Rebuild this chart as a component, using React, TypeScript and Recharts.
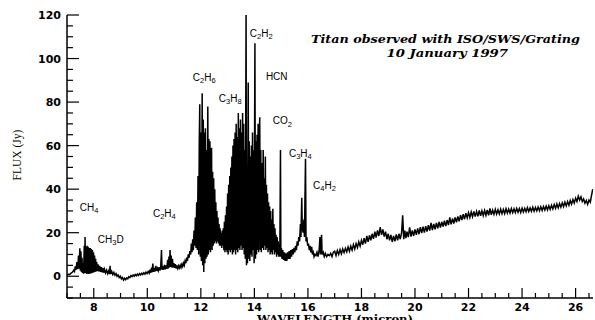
import React from 'react';
import { LineChart, Line, XAxis, YAxis, ReferenceDot } from 'recharts';

type Pt = [number, number];

// wavelength (micron), flux (Jy)
const ch4Band: Pt[] = [
  [7.0, 0.5], [7.05, 0.9], [7.1, 0.8], [7.15, 1.4], [7.2, 1.8], [7.25, 2.8], [7.28, 2.2], [7.31, 4.5],
  [7.34, 3], [7.37, 6.5], [7.4, 3.2], [7.43, 9.5], [7.45, 3.5], [7.48, 12.8], [7.5, 2.5], [7.52, 11.5],
  [7.54, 2], [7.56, 8.5], [7.58, 1.5], [7.6, 6], [7.62, 1.2], [7.645, 14], [7.66, 1.5], [7.675, 18],
  [7.69, 1.5], [7.71, 13.5], [7.73, 1], [7.75, 14], [7.77, 1.2], [7.79, 13.5], [7.81, 1], [7.83, 13],
  [7.85, 1.2], [7.87, 13], [7.89, 1.3], [7.91, 12.5], [7.93, 1.5], [7.95, 12], [7.97, 1.6], [7.99, 11],
  [8.01, 1.8], [8.03, 9.5], [8.05, 2], [8.07, 8], [8.09, 2.2], [8.11, 6.5], [8.13, 2.3], [8.16, 5.5],
  [8.19, 2.2], [8.22, 4.8], [8.25, 2], [8.28, 4.2], [8.31, 1.8], [8.34, 3.8], [8.37, 1.6],
];

const quietBand: Pt[] = [
  [8.4, 3.2], [8.44, 1.5], [8.48, 2.8], [8.52, 1.2], [8.56, 2.5], [8.59, 1], [8.61, 4.8], [8.63, 1],
  [8.67, 2.2], [8.71, 0.8], [8.75, 1.8], [8.79, 0.5], [8.83, 1.2], [8.87, 0], [8.91, 0.6], [8.95, -0.6],
  [8.99, 0], [9.03, -1.2], [9.07, -0.6], [9.11, -1.8], [9.15, -1], [9.19, -1.6], [9.23, -0.8], [9.27, -1.2],
  [9.31, -0.2], [9.35, -0.6], [9.39, 0.3], [9.43, -0.2], [9.47, 0.6], [9.51, 0], [9.55, 0.8], [9.59, 0.2],
  [9.63, 1], [9.67, 0.4], [9.71, 1.2], [9.75, 0.6], [9.79, 1.4], [9.83, 0.8], [9.87, 1.6], [9.91, 1],
  [9.95, 1.9], [9.99, 1.2], [10.03, 2.2], [10.07, 1.4], [10.1, 3], [10.13, 1.6], [10.16, 4], [10.18, 1.8],
  [10.205, 5.8], [10.23, 2], [10.26, 3.2], [10.29, 2.2], [10.32, 4.8], [10.35, 2.4], [10.38, 3.6], [10.41, 2.5],
  [10.44, 4.2], [10.47, 2.6], [10.5, 4], [10.53, 12], [10.55, 3], [10.58, 4.5], [10.61, 3], [10.64, 5.2],
  [10.67, 3.2], [10.7, 5], [10.73, 3.4], [10.76, 7.5], [10.78, 3.6], [10.81, 9], [10.83, 4], [10.85, 12],
  [10.87, 4.2], [10.89, 9.5], [10.91, 4], [10.94, 8], [10.96, 4], [10.99, 6], [11.02, 3.8], [11.05, 5.5],
  [11.08, 3.5], [11.11, 5], [11.14, 3.6], [11.17, 4.8], [11.2, 3.8], [11.23, 5], [11.26, 4], [11.29, 5.5],
  [11.32, 4.5], [11.35, 6], [11.38, 5], [11.41, 7], [11.44, 6], [11.47, 8.5], [11.5, 7], [11.53, 10],
  [11.56, 8.5], [11.59, 11.5],
];

const c2h6Band: Pt[] = [
  [11.62, 10], [11.645, 15], [11.67, 11], [11.695, 17], [11.72, 12], [11.745, 21], [11.77, 14], [11.795, 27],
  [11.82, 13], [11.845, 34], [11.87, 12], [11.895, 46], [11.92, 10], [11.94, 60], [11.96, 79], [11.98, 9],
  [12.0, 66], [12.02, 7], [12.05, 84], [12.07, 5], [12.09, 72], [12.11, 2], [12.13, 66], [12.15, 6],
  [12.17, 68], [12.19, 8], [12.21, 58], [12.23, 9], [12.26, 78], [12.28, 10], [12.3, 63], [12.32, 12],
  [12.34, 62], [12.36, 11], [12.38, 56], [12.4, 59], [12.42, 12], [12.44, 48], [12.46, 14], [12.48, 45],
  [12.5, 15], [12.52, 40], [12.54, 16], [12.56, 34], [12.58, 15], [12.6, 30], [12.62, 16], [12.64, 27],
  [12.66, 15], [12.68, 24], [12.7, 14], [12.72, 22], [12.74, 14], [12.76, 20], [12.78, 13], [12.8, 21],
  [12.82, 14], [12.84, 22], [12.86, 12], [12.88, 25], [12.9, 11],
];

const c3h8Band: Pt[] = [
  [12.92, 28], [12.94, 12], [12.96, 32], [12.98, 11], [13.0, 38], [13.02, 10], [13.04, 42], [13.06, 12],
  [13.08, 46], [13.1, 11], [13.12, 50], [13.14, 12], [13.16, 55], [13.18, 10], [13.2, 60], [13.22, 11],
  [13.24, 63], [13.26, 12], [13.28, 66], [13.3, 10], [13.32, 70], [13.34, 12], [13.36, 64], [13.38, 11],
  [13.4, 75], [13.42, 13], [13.44, 68], [13.46, 12], [13.48, 72], [13.5, 14], [13.52, 66], [13.54, 12],
  [13.56, 75], [13.58, 13], [13.6, 70], [13.62, 10], [13.64, 58], [13.66, 8],
];

const c2h2HcnBand: Pt[] = [
  [13.69, 122], [13.705, 5], [13.72, 45], [13.74, 6], [13.77, 89], [13.79, 8], [13.81, 62], [13.83, 7],
  [13.85, 55], [13.87, 10], [13.89, 60], [13.91, 9], [13.93, 66], [13.95, 12], [13.97, 58], [13.99, 6],
  [14.02, 107], [14.04, 8], [14.06, 62], [14.08, 10], [14.1, 65], [14.12, 12], [14.14, 70], [14.16, 11],
  [14.18, 60], [14.2, 73], [14.22, 12], [14.24, 58], [14.26, 11], [14.28, 52], [14.3, 13], [14.33, 58],
  [14.35, 12], [14.37, 45], [14.39, 14], [14.41, 55], [14.43, 12], [14.45, 42], [14.47, 13], [14.49, 38],
  [14.51, 11], [14.53, 34], [14.55, 12], [14.57, 32], [14.59, 10], [14.61, 30], [14.63, 11], [14.65, 26],
  [14.67, 10], [14.69, 31], [14.71, 12], [14.73, 24], [14.75, 10], [14.77, 22], [14.79, 11], [14.81, 19],
  [14.83, 9], [14.85, 18], [14.87, 10], [14.89, 16], [14.91, 9], [14.93, 14], [14.95, 9], [14.975, 58],
  [14.99, 9],
];

const c3h4Band: Pt[] = [
  [15.01, 13], [15.03, 8], [15.06, 12], [15.09, 7.5], [15.12, 11], [15.15, 7], [15.18, 10.5], [15.21, 7],
  [15.24, 11], [15.27, 8], [15.3, 11.5], [15.33, 8], [15.36, 12], [15.39, 9], [15.42, 12.5], [15.45, 10],
  [15.48, 13], [15.51, 11], [15.54, 14], [15.57, 12], [15.6, 16], [15.63, 14], [15.66, 18], [15.69, 16],
  [15.72, 24], [15.74, 18], [15.77, 36], [15.79, 22], [15.82, 20], [15.85, 26], [15.87, 18], [15.91, 54],
  [15.93, 16], [15.96, 18], [15.99, 14], [16.02, 15], [16.05, 12], [16.08, 14], [16.11, 11], [16.14, 13.5],
  [16.17, 10], [16.2, 11], [16.23, 9], [16.26, 10], [16.3, 9.5], [16.34, 11], [16.38, 9], [16.42, 12],
  [16.45, 18], [16.47, 10], [16.51, 19], [16.53, 10], [16.57, 11], [16.61, 9], [16.65, 10.5], [16.7, 9],
  [16.75, 10], [16.8, 9.5], [16.85, 10.5], [16.9, 9], [16.95, 11],
];

const continuum: Pt[] = [
  [17.0, 11.5], [17.05, 9.5], [17.1, 11.8], [17.15, 10], [17.2, 12.2], [17.25, 10.3], [17.3, 12.5], [17.35, 10.8],
  [17.4, 12.8], [17.45, 11.2], [17.5, 13.5], [17.55, 11.5], [17.6, 13.8], [17.65, 12], [17.7, 14.5], [17.75, 12.5],
  [17.8, 15], [17.85, 13.2], [17.9, 15.8], [17.95, 13.8], [18.0, 16.5], [18.05, 14.5], [18.1, 17.5], [18.15, 15],
  [18.2, 18.5], [18.25, 15.8], [18.3, 18.8], [18.35, 16.5], [18.4, 19.5], [18.45, 17.2], [18.5, 20.5], [18.55, 17.8],
  [18.6, 21], [18.65, 18.5], [18.7, 22.5], [18.75, 19], [18.8, 21.5], [18.85, 18.2], [18.9, 20.5], [18.95, 17],
  [19.0, 19.5], [19.05, 16.5], [19.1, 19], [19.15, 15.8], [19.2, 18.5], [19.25, 16], [19.3, 19.2], [19.35, 16.5],
  [19.4, 19.5], [19.45, 17], [19.5, 20], [19.54, 28], [19.58, 17], [19.62, 21], [19.66, 17.5], [19.7, 20.5],
  [19.75, 18], [19.8, 22.5], [19.85, 18.2], [19.9, 21], [19.95, 18.5], [20.0, 21.5], [20.05, 19], [20.1, 22],
  [20.15, 19.3], [20.2, 22.5], [20.25, 19.8], [20.3, 22.8], [20.35, 20], [20.4, 23], [20.45, 20.5], [20.5, 23.5],
  [20.55, 21], [20.6, 24.5], [20.65, 21.2], [20.7, 24], [20.75, 21.5], [20.8, 24.5], [20.85, 22], [20.9, 25],
  [20.95, 22.3], [21.0, 25], [21.05, 22.8], [21.1, 25.5], [21.15, 23], [21.2, 25.8], [21.25, 23.5], [21.3, 27],
  [21.35, 23.8], [21.4, 26.5], [21.45, 24.2], [21.5, 27], [21.55, 24.8], [21.6, 27.5], [21.65, 25.2], [21.7, 28],
  [21.75, 25.8], [21.8, 28.5], [21.85, 26.2], [21.9, 29], [21.95, 26.8], [22.0, 29.2], [22.05, 27], [22.1, 29.5],
  [22.15, 27.3], [22.2, 29.8], [22.25, 27.4], [22.3, 29.8], [22.35, 27.5], [22.4, 30.2], [22.45, 27.7], [22.5, 30],
  [22.55, 27.8], [22.6, 30.2], [22.65, 28], [22.7, 30.4], [22.75, 28], [22.8, 31.2], [22.85, 28.2], [22.9, 30.4],
  [22.95, 28.4], [23.0, 30.7], [23.05, 28.5], [23.1, 30.5], [23.15, 28.6], [23.2, 30.8], [23.25, 28.7], [23.3, 30.7],
  [23.35, 28.8], [23.4, 31], [23.45, 29], [23.5, 30.8], [23.55, 29], [23.6, 31.1], [23.65, 29.2], [23.7, 31],
  [23.75, 29.2], [23.8, 31.2], [23.85, 29.4], [23.9, 31.1], [23.95, 29.3], [24.0, 31.3], [24.05, 29.5], [24.1, 31.2],
  [24.15, 29.6], [24.2, 31.5], [24.25, 29.7], [24.3, 31.4], [24.35, 29.8], [24.4, 31.7], [24.45, 29.9], [24.5, 31.6],
  [24.55, 30], [24.6, 31.8], [24.65, 30.1], [24.7, 31.9], [24.75, 30.2], [24.8, 32], [24.85, 30.4], [24.9, 32.2],
  [24.95, 30.5], [25.0, 32.4], [25.05, 30.7], [25.1, 32.6], [25.15, 30.9], [25.2, 32.9], [25.25, 31.2], [25.3, 33.2],
  [25.35, 31.4], [25.4, 33.4], [25.45, 31.7], [25.5, 33.7], [25.55, 32], [25.6, 34], [25.65, 32.3], [25.7, 34.3],
  [25.75, 32.6], [25.8, 34.8], [25.85, 33.1], [25.9, 35.2], [25.95, 33.6], [26.0, 35.9], [26.05, 34.3], [26.1, 36.8],
  [26.15, 35], [26.2, 36.5], [26.25, 34.3], [26.3, 35.5], [26.35, 33.5], [26.4, 34.8], [26.45, 33], [26.5, 35],
  [26.55, 34], [26.6, 37.5], [26.64, 40],
];

const xTicks = [
  7, 7.5, 8, 8.5, 9, 9.5, 10, 10.5, 11, 11.5, 12, 12.5, 13, 13.5, 14, 14.5, 15, 15.5, 16, 16.5,
  17, 17.5, 18, 18.5, 19, 19.5, 20, 20.5, 21, 21.5, 22, 22.5, 23, 23.5, 24, 24.5, 25, 25.5, 26, 26.5,
];
const xLabels = [8, 10, 12, 14, 16, 18, 20, 22, 24, 26];
const yTicks = [-10, -5, 0, 5, 10, 15, 20, 25, 30, 35, 40, 45, 50, 55, 60, 65, 70, 75, 80, 85, 90, 95, 100, 105, 110, 115, 120];
const yLabels = [0, 20, 40, 60, 80, 100, 120];

const molecules = [
  { name: 'CH4', w: 7.48, f: 30.1 },
  { name: 'CH3D', w: 8.15, f: 15.4 },
  { name: 'C2H4', w: 10.21, f: 27.4 },
  { name: 'C2H6', w: 11.7, f: 89.9 },
  { name: 'C3H8', w: 12.67, f: 80.2 },
  { name: 'C2H2', w: 13.83, f: 110.1 },
  { name: 'HCN', w: 14.43, f: 90.3 },
  { name: 'CO2', w: 14.69, f: 69.7 },
  { name: 'C3H4', w: 15.29, f: 54.9 },
  { name: 'C4H2', w: 16.19, f: 40.2 },
];

const spectrum = [...ch4Band, ...quietBand, ...c2h6Band, ...c3h8Band, ...c2h2HcnBand, ...c3h4Band, ...continuum].map(
  ([w, f]) => ({ w, f })
);

const TICK_FONT = { fontFamily: 'DejaVu Sans', fontWeight: 700, fontSize: 11, fill: '#000' } as const;

const BottomTick = (props: any) => {
  const { x, y, payload } = props;
  const major = xLabels.includes(payload.value);
  return (
    <g>
      <line x1={x} x2={x} y1={y} y2={y - (major ? 10 : 5)} stroke="#000" strokeWidth={1.2} />
      {major && (
        <text x={x} y={y + 12.5} textAnchor="middle" {...TICK_FONT}>
          {payload.value}
        </text>
      )}
    </g>
  );
};

const TopTick = (props: any) => {
  const { x, y, payload } = props;
  const major = xLabels.includes(payload.value);
  return <line x1={x} x2={x} y1={y} y2={y + (major ? 10 : 5)} stroke="#000" strokeWidth={1.2} />;
};

const LeftTick = (props: any) => {
  const { x, y, payload } = props;
  const major = yLabels.includes(payload.value);
  return (
    <g>
      <line x1={x} x2={x + (major ? 12 : 6)} y1={y} y2={y} stroke="#000" strokeWidth={1.2} />
      {major && (
        <text x={x - 6} y={y + 4} textAnchor="end" {...TICK_FONT}>
          {payload.value}
        </text>
      )}
    </g>
  );
};

const RightTick = (props: any) => {
  const { x, y } = props;
  return <line x1={x} x2={x - 10} y1={y} y2={y} stroke="#000" strokeWidth={1.2} />;
};

const MoleculeLabel = (name: string) => (props: any) => {
  const { cx, cy } = props;
  const parts: React.ReactNode[] = [];
  let sub = false;
  name.split('').forEach((ch, i) => {
    const isDigit = /[0-9]/.test(ch);
    if (isDigit) {
      parts.push(
        <tspan key={i} fontSize={7.5} dy={sub ? 0 : 2.5}>
          {ch}
        </tspan>
      );
      sub = true;
    } else {
      parts.push(
        <tspan key={i} fontSize={10} dy={sub ? -2.5 : 0}>
          {ch}
        </tspan>
      );
      sub = false;
    }
  });
  return (
    <text x={cx} y={cy} fontFamily="Liberation Sans" fontSize={10} fill="#000">
      {parts}
    </text>
  );
};

const axisLine = { stroke: '#000', strokeWidth: 1.5 };

export default function App() {
  return (
    <div style={{ position: 'absolute', left: 0, top: 0, width: 595, height: 320, background: '#fff' }}>
      <LineChart width={595} height={320} data={spectrum} margin={{ top: 15, right: 2, bottom: 0, left: 27 }}>
        <XAxis
          xAxisId="b"
          dataKey="w"
          type="number"
          domain={[7, 26.65]}
          allowDataOverflow
          ticks={xTicks}
          interval={0}
          height={22}
          tickSize={0}
          tickMargin={0}
          tickLine={false}
          axisLine={axisLine}
          tick={<BottomTick />}
        />
        <XAxis
          xAxisId="t"
          dataKey="w"
          type="number"
          orientation="top"
          domain={[7, 26.65]}
          allowDataOverflow
          ticks={xTicks}
          interval={0}
          height={0}
          tickSize={0}
          tickMargin={0}
          tickLine={false}
          axisLine={axisLine}
          tick={<TopTick />}
        />
        <YAxis
          yAxisId="l"
          type="number"
          domain={[-10, 120]}
          allowDataOverflow
          ticks={yTicks}
          interval={0}
          width={40}
          tickSize={0}
          tickMargin={0}
          tickLine={false}
          axisLine={axisLine}
          tick={<LeftTick />}
        />
        <YAxis
          yAxisId="r"
          type="number"
          orientation="right"
          domain={[-10, 120]}
          allowDataOverflow
          ticks={yLabels}
          interval={0}
          width={0}
          tickSize={0}
          tickMargin={0}
          tickLine={false}
          axisLine={axisLine}
          tick={<RightTick />}
        />
        <Line
          xAxisId="b"
          yAxisId="l"
          dataKey="f"
          type="linear"
          stroke="#000"
          strokeWidth={1.5}
          dot={false}
          isAnimationActive={false}
        />
        {molecules.map((m) => (
          <ReferenceDot
            key={m.name}
            xAxisId="b"
            yAxisId="l"
            x={m.w}
            y={m.f}
            r={0}
            ifOverflow="visible"
            shape={MoleculeLabel(m.name)}
          />
        ))}
      </LineChart>
      <svg width={595} height={320} style={{ position: 'absolute', left: 0, top: 0, pointerEvents: 'none' }}>
        <text
          x={311}
          y={42.5}
          fontFamily="DejaVu Serif"
          fontStyle="italic"
          fontWeight={700}
          fontSize={11}
          textLength={269}
          lengthAdjust="spacingAndGlyphs"
          fill="#000"
        >
          Titan observed with ISO/SWS/Grating
        </text>
        <text
          x={386.5}
          y={56.5}
          fontFamily="DejaVu Serif"
          fontStyle="italic"
          fontWeight={700}
          fontSize={11}
          textLength={121.5}
          lengthAdjust="spacingAndGlyphs"
          fill="#000"
        >
          10 January 1997
        </text>
        <text
          transform="translate(21,155) rotate(-90)"
          textAnchor="middle"
          fontFamily="Liberation Serif"
          fontSize={11.5}
          fill="#000"
        >
          FLUX (Jy)
        </text>
        <text
          x={257}
          y={323}
          fontFamily="DejaVu Serif"
          fontWeight={700}
          fontSize={11}
          textLength={156}
          lengthAdjust="spacingAndGlyphs"
          fill="#000"
        >
          WAVELENGTH (micron)
        </text>
      </svg>
    </div>
  );
}
